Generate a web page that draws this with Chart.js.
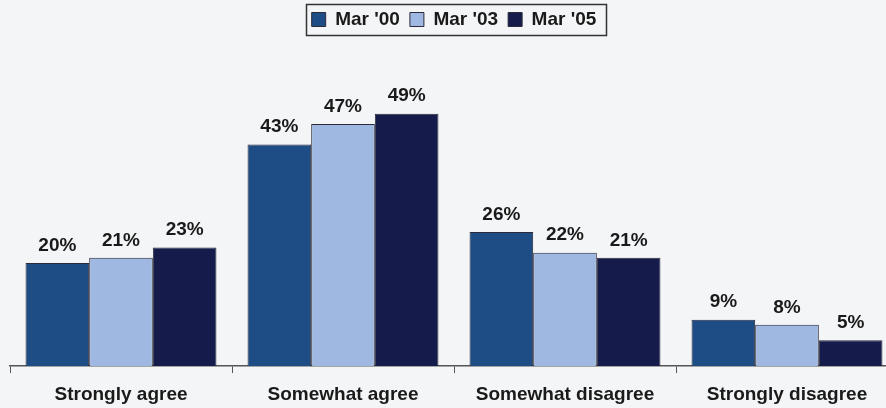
<!DOCTYPE html>
<html>
<head>
<meta charset="utf-8">
<script src="https://cdn.jsdelivr.net/npm/chart.js@4"></script>
<style>
  html, body { margin: 0; padding: 0; background: #f4f5f7; overflow: hidden; }
  #wrap { position: relative; width: 900px; height: 408px; }
</style>
</head>
<body>
<div id="wrap"><canvas id="opinionChart"></canvas></div>
<script>
// survey answers, three waves
const categories = ['Strongly agree', 'Somewhat agree', 'Somewhat disagree', 'Strongly disagree'];
const seriesNames = ["Mar '00", "Mar '03", "Mar '05"];
const mar00 = [20, 43, 26, 9];
const mar03 = [21, 47, 22, 8];
const mar05 = [23, 49, 21, 5];
const colors = ['#1e4c85', '#9fb8e1', '#151b4a'];

const FONT = '"Liberation Sans", Arial, sans-serif';

// percent labels above each bar
const valueLabels = {
  id: 'valueLabels',
  afterDatasetsDraw(chart) {
    const ctx = chart.ctx;
    ctx.save();
    ctx.font = 'bold 19px ' + FONT;
    ctx.fillStyle = '#1a1a1a';
    ctx.textAlign = 'center';
    ctx.textBaseline = 'bottom';
    chart.data.datasets.forEach((ds, i) => {
      chart.getDatasetMeta(i).data.forEach((bar, j) => {
        ctx.fillText(ds.data[j] + '%', bar.x, bar.y - 8);
      });
    });
    ctx.restore();
  }
};

// frame round the legend items
const legendFrame = {
  id: 'legendFrame',
  afterDraw(chart) {
    const boxes = chart.legend.legendHitBoxes;
    if (!boxes || !boxes.length) return;
    const first = boxes[0], last = boxes[boxes.length - 1];
    const ctx = chart.ctx;
    ctx.save();
    ctx.strokeStyle = '#333';
    ctx.lineWidth = 1.5;
    const x0 = Math.round(first.left - 6) + 0.5;
    const x1 = Math.round(last.left + last.width + 10) + 0.5;
    ctx.strokeRect(x0, 4.5, x1 - x0, 31);
    ctx.restore();
  }
};

new Chart(document.getElementById('opinionChart'), {
  type: 'bar',
  data: {
    labels: categories,
    datasets: [mar00, mar03, mar05].map((d, i) => ({
      label: seriesNames[i],
      data: d,
      backgroundColor: colors[i],
      borderColor: '#2a2a3a',
      borderWidth: 1,
      categoryPercentage: 0.86,
      barPercentage: 1.0
    }))
  },
  options: {
    responsive: true,
    maintainAspectRatio: false,
    animation: false,
    layout: { padding: { left: 10, right: 2, top: 0, bottom: -8 } },
    plugins: {
      legend: {
        display: true,
        position: 'top',
        labels: {
          boxWidth: 14,
          boxHeight: 14,
          padding: 10,
          color: '#1a1a1a',
          font: { family: FONT, size: 19, weight: 'bold' }
        }
      },
      tooltip: { enabled: false }
    },
    scales: {
      y: {
        display: false,
        min: 0,
        max: 63.5
      },
      x: {
        offset: true,
        grid: {
          display: true,
          offset: true,
          drawOnChartArea: false,
          tickLength: 7,
          color: '#555'
        },
        border: { display: true, color: '#555', width: 1.5 },
        ticks: {
          padding: 12,
          color: '#1a1a1a',
          font: { family: FONT, size: 19, weight: 'bold', lineHeight: 1.0 }
        }
      }
    }
  },
  plugins: [valueLabels, legendFrame]
});
</script>
</body>
</html>
